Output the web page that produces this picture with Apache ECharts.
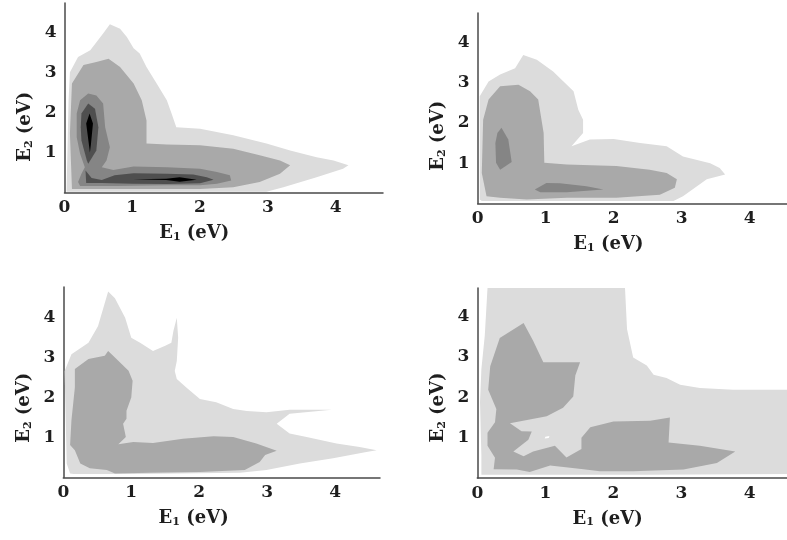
<!DOCTYPE html>
<html>
<head>
<meta charset="utf-8">
<script src="https://cdn.jsdelivr.net/npm/echarts@6/dist/echarts.min.js"></script>
<style>html,body{margin:0;padding:0;background:#fff}#c{width:787px;height:540px}</style>
</head>
<body>
<div id="c"></div>
<script>
// ---- tick labels ----
const xTickLabels = ['0', '1', '2', '3', '4'];
const yTickLabels = ['1', '2', '3', '4'];
const xTitle = 'E₁ (eV)';
const yTitle = 'E₂ (eV)';

// ---- contour polygons [E1, E2] in eV ----
// panel 1 (top-left)
const p1Level1 = [[0.03,0.02],[0.06,2.3],[0.08,3.0],[0.2,3.38],[0.38,3.55],[0.57,3.97],[0.67,4.2],[0.82,4.09],[0.92,3.88],[1.02,3.6],[1.11,3.47],[1.21,3.13],[1.36,2.72],[1.51,2.3],[1.58,1.97],[1.65,1.63],[2.0,1.59],[2.49,1.43],[2.98,1.22],[3.33,1.05],[3.72,0.88],[3.97,0.8],[4.19,0.68],[4.11,0.59],[3.72,0.38],[3.23,0.13],[2.98,0.02]];
const p1Level2 = [[0.11,0.09],[0.08,1.47],[0.11,2.72],[0.28,3.18],[0.47,3.26],[0.65,3.34],[0.82,3.13],[1.02,2.72],[1.14,2.3],[1.21,1.8],[1.21,1.22],[1.51,1.2],[2.0,1.18],[2.49,1.09],[2.88,0.93],[3.18,0.8],[3.33,0.68],[3.18,0.47],[2.88,0.26],[2.49,0.13],[2.0,0.09],[1.02,0.09]];
const p1Level3 = [[0.35,2.47],[0.47,2.42],[0.57,2.22],[0.6,1.63],[0.67,1.13],[0.62,0.8],[0.55,0.63],[0.72,0.56],[1.02,0.65],[1.51,0.63],[2.0,0.59],[2.25,0.51],[2.44,0.43],[2.46,0.3],[2.25,0.22],[2.0,0.18],[1.51,0.18],[0.77,0.16],[0.23,0.16],[0.2,0.26],[0.25,0.47],[0.3,0.63],[0.23,0.97],[0.18,1.38],[0.18,1.97],[0.23,2.3]];
const p1Level4a = [[0.35,2.22],[0.45,2.09],[0.5,1.63],[0.47,1.05],[0.35,0.72],[0.33,0.8],[0.25,1.3],[0.24,1.63],[0.25,1.97]];
const p1Level4b = [[0.31,0.55],[0.40,0.36],[0.55,0.31],[0.74,0.43],[1.02,0.48],[1.51,0.47],[1.9,0.45],[2.1,0.38],[2.2,0.32],[2.0,0.23],[1.51,0.21],[1.02,0.22],[0.55,0.24],[0.32,0.24]];
const p1Level5a = [[0.37,1.97],[0.42,1.72],[0.39,1.2],[0.375,1.0],[0.36,1.2],[0.32,1.72]];
const p1Level5b = [[1.02,0.33],[1.5,0.345],[1.70,0.38],[1.95,0.32],[1.70,0.27],[1.5,0.315]];
// panel 2 (top-right)
const p2Level1 = [[0.03,0.1],[0.03,2.66],[0.16,3.03],[0.33,3.2],[0.55,3.36],[0.67,3.69],[0.87,3.57],[1.11,3.28],[1.41,2.79],[1.48,2.33],[1.55,2.08],[1.55,1.75],[1.38,1.42],[1.65,1.59],[2.0,1.6],[2.39,1.5],[2.78,1.42],[3.02,1.17],[3.42,1.0],[3.56,0.88],[3.64,0.72],[3.37,0.6],[3.02,0.18],[2.88,0.06],[0.06,0.06]];
const p2Level2 = [[0.13,0.18],[0.06,0.76],[0.08,2.08],[0.16,2.58],[0.33,2.91],[0.6,2.95],[0.77,2.79],[0.89,2.58],[0.97,1.75],[0.98,1.01],[1.31,0.97],[2.04,0.93],[2.53,0.84],[2.78,0.76],[2.93,0.6],[2.9,0.39],[2.68,0.22],[2.04,0.14],[1.31,0.14],[0.72,0.1],[0.33,0.14]];
const p2Level3a = [[0.35,1.88],[0.45,1.59],[0.5,1.03],[0.33,0.84],[0.27,1.01],[0.26,1.5],[0.29,1.75]];
const p2Level3b = [[1.01,0.51],[0.84,0.35],[0.92,0.28],[1.31,0.28],[1.85,0.35],[1.6,0.43],[1.21,0.5]];
// panel 3 (bottom-left)
const p3Level1 = [[0.1,0.1],[0.05,0.35],[0.02,2.66],[0.12,3.08],[0.37,3.37],[0.51,3.78],[0.59,4.24],[0.66,4.65],[0.76,4.48],[0.91,3.99],[1.0,3.49],[1.13,3.37],[1.32,3.16],[1.5,3.29],[1.59,3.37],[1.62,3.66],[1.67,3.99],[1.69,3.49],[1.67,2.91],[1.64,2.66],[1.67,2.46],[1.81,2.25],[2.01,1.96],[2.25,1.88],[2.5,1.71],[2.7,1.66],[2.99,1.63],[3.33,1.69],[3.95,1.69],[3.33,1.59],[3.14,1.34],[3.33,1.1],[3.58,1.01],[4.02,0.85],[4.36,0.76],[4.61,0.68],[4.46,0.64],[3.97,0.48],[3.48,0.35],[2.99,0.19],[2.6,0.12],[1.03,0.09],[0.15,0.09]];
const p3Level2 = [[0.17,2.71],[0.37,2.96],[0.61,3.04],[0.66,3.16],[0.76,3.0],[0.96,2.67],[1.02,2.42],[1.0,2.0],[0.93,1.67],[0.93,1.47],[0.88,1.34],[0.92,1.01],[0.81,0.83],[1.03,0.89],[1.32,0.86],[1.76,0.97],[2.21,1.03],[2.5,1.01],[2.84,0.85],[3.14,0.67],[2.97,0.56],[2.89,0.39],[2.67,0.19],[2.01,0.14],[1.27,0.12],[0.76,0.1],[0.64,0.19],[0.39,0.23],[0.25,0.35],[0.17,0.68],[0.1,0.81],[0.12,1.43],[0.17,2.25]];
// panel 4 (bottom-right)
const p4Level1 = [[0.06,0.08],[0.06,0.55],[0.04,1.88],[0.06,2.7],[0.11,3.53],[0.15,4.71],[2.17,4.71],[2.2,3.69],[2.29,2.99],[2.49,2.79],[2.59,2.56],[2.78,2.48],[2.98,2.31],[3.27,2.23],[3.76,2.19],[4.55,2.19],[4.55,0.1],[2.5,0.08]];
const p4Hole = [[1.0,1.02],[1.06,1.04],[1.05,0.99],[0.99,0.98]];
const p4Level2 = [[0.33,3.47],[0.68,3.84],[0.82,3.4],[0.97,2.87],[1.51,2.87],[1.44,2.54],[1.41,2.02],[1.26,1.74],[1.02,1.53],[0.48,1.36],[0.65,1.16],[0.8,1.15],[0.75,0.95],[0.53,0.66],[0.68,0.54],[0.82,0.66],[1.14,0.8],[1.31,0.51],[1.53,0.72],[1.53,1.0],[1.66,1.26],[2.0,1.4],[2.54,1.42],[2.83,1.5],[2.81,0.88],[3.27,0.8],[3.79,0.66],[3.52,0.37],[3.03,0.21],[2.29,0.17],[1.8,0.17],[1.56,0.22],[1.07,0.31],[0.77,0.15],[0.58,0.21],[0.24,0.22],[0.26,0.5],[0.15,0.8],[0.15,1.12],[0.26,1.38],[0.28,1.71],[0.16,2.19],[0.19,2.77]];

// ---- styling / layout ----
const levelColors = ['#dcdcdc', '#a9a9a9', '#858585', '#4f4f4f', '#000000', '#ffffff'];
const panels = [
  {grid:{left:64.5, top:3, width:318.5, height:189.5}, xMax:4.7, yMax:4.73, xShift:59, yShift:58,
   polys:[[p1Level1,0],[p1Level2,1],[p1Level3,2],[p1Level4a,3],[p1Level4b,3],[p1Level5a,4],[p1Level5b,4]]},
  {grid:{left:477.7, top:13, width:309.3, height:190.5}, xMax:4.55, yMax:4.73, xShift:48, yShift:55,
   polys:[[p2Level1,0],[p2Level2,1],[p2Level3a,2],[p2Level3b,2]]},
  {grid:{left:63.3, top:287, width:316.7, height:190.5}, xMax:4.66, yMax:4.76, xShift:56, yShift:51,
   polys:[[p3Level1,0],[p3Level2,1]]},
  {grid:{left:477.3, top:288, width:309.7, height:190}, xMax:4.55, yMax:4.71, xShift:49, yShift:49,
   polys:[[p4Level1,0],[p4Hole,5],[p4Level2,1]]}
];

const font = 'DejaVu Serif';
const txtColor = '#1e1e1e';
const labelStyle = {fontFamily:font, fontSize:17, fontWeight:'bold', color:txtColor};
const nameRich = {
  e:{fontFamily:font, fontSize:18, fontWeight:'bold', color:txtColor},
  s:{fontFamily:font, fontSize:11, fontWeight:'bold', color:txtColor, verticalAlign:'bottom', lineHeight:13}
};
function richName(t){ // 'E₁ (eV)' -> rich string with subscript
  const sub = {'₁':'1','₂':'2'};
  return '{e|E}{s|' + sub[t[1]] + '}{e|' + t.slice(2) + '}';
}

const option = {animation:false, grid:[], xAxis:[], yAxis:[], series:[]};
panels.forEach((p, i) => {
  option.grid.push(Object.assign({containLabel:false}, p.grid));
  option.xAxis.push({
    type:'value', gridIndex:i, min:0, max:p.xMax, interval:1,
    axisLine:{show:true, lineStyle:{color:'#4a4a4a', width:1.5}},
    axisTick:{show:false}, splitLine:{show:false},
    axisLabel:Object.assign({margin:7, showMaxLabel:false,
      formatter:v => xTickLabels.includes(String(v)) ? String(v) : ''}, labelStyle),
    name:richName(xTitle), nameLocation:'middle', nameGap:32,
    nameTextStyle:{rich:nameRich, padding:[0,p.xShift,0,0]}
  });
  option.yAxis.push({
    type:'value', gridIndex:i, min:0, max:p.yMax, interval:1,
    axisLine:{show:true, lineStyle:{color:'#4a4a4a', width:1.5}},
    axisTick:{show:false}, splitLine:{show:false},
    axisLabel:Object.assign({margin:8, showMinLabel:false, showMaxLabel:false,
      formatter:v => yTickLabels.includes(String(v)) ? String(v) : ''}, labelStyle),
    name:richName(yTitle), nameLocation:'middle', nameGap:30,
    nameTextStyle:{rich:nameRich, padding:[0,p.yShift,0,0]}
  });
  p.polys.forEach(([pts, lvl]) => {
    option.series.push({
      type:'custom', xAxisIndex:i, yAxisIndex:i, data:pts, clip:true, silent:true,
      encode:{x:0, y:1},
      renderItem:(params, api) => {
        if (params.dataIndex !== 0) return null;
        return {type:'polygon', shape:{points:pts.map(q => api.coord(q))},
                style:{fill:levelColors[lvl], stroke:null}};
      }
    });
  });
});

const chart = echarts.init(document.getElementById('c'), null, {renderer:'canvas'});
chart.setOption(option);
</script>
</body>
</html>
